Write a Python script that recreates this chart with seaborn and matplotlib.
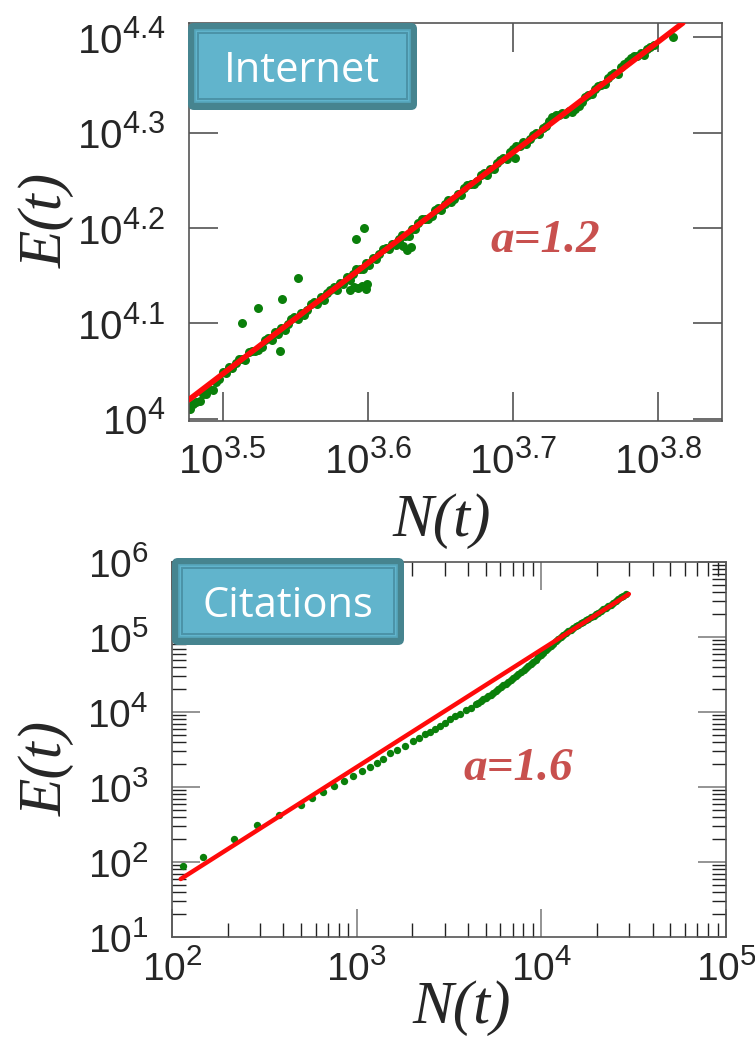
import numpy as np
import pandas as pd
import matplotlib
matplotlib.use("Agg")
import matplotlib.pyplot as plt
import matplotlib._mathtext as _mt
import seaborn as sns
from matplotlib.patches import FancyBboxPatch, Rectangle
from matplotlib.ticker import FixedLocator, NullLocator, LogLocator, NullFormatter

# ---------------- data (log10 values) ----------------
internet_logN = [
    3.4775, 3.4820, 3.4865, 3.4910, 3.4955, 3.5000, 3.5045, 3.5090, 3.5135, 3.5180,
    3.5225, 3.5270, 3.5315, 3.5360, 3.5405, 3.5450, 3.5495, 3.5540, 3.5585, 3.5630,
    3.5675, 3.5720, 3.5765, 3.5810, 3.5855, 3.5900, 3.5945, 3.5990, 3.6035, 3.6080,
    3.6125, 3.6170, 3.6215, 3.6260, 3.6305, 3.6350, 3.6395, 3.6440, 3.6485, 3.6530,
    3.6575, 3.6620, 3.6665, 3.6710, 3.6755, 3.6800, 3.6845, 3.6890, 3.6935, 3.6980,
    3.7025, 3.7070, 3.7115, 3.7160, 3.7205, 3.7250, 3.7295, 3.7340, 3.7385, 3.7430,
    3.7475, 3.7520, 3.7565, 3.7610, 3.7655, 3.7700, 3.7745, 3.7790, 3.7835, 3.7880,
    3.7925, 3.7970,
]
internet_logE = [
    4.0106, 4.0178, 4.0261, 4.0313, 4.0385, 4.0487, 4.0540, 4.0582, 4.0624, 4.0696,
    4.0709, 4.0751, 4.0843, 4.0906, 4.0948, 4.0990, 4.1062, 4.1105, 4.1137, 4.1219,
    4.1272, 4.1314, 4.1376, 4.1418, 4.1481, 4.1513, 4.1575, 4.1637, 4.1690, 4.1732,
    4.1794, 4.1827, 4.1889, 4.1911, 4.1993, 4.2056, 4.2098, 4.2130, 4.2213, 4.2255,
    4.2277, 4.2359, 4.2422, 4.2464, 4.2496, 4.2579, 4.2621, 4.2683, 4.2735, 4.2798,
    4.2860, 4.2902, 4.2935, 4.2997, 4.3049, 4.3121, 4.3184, 4.3206, 4.3228, 4.3251,
    4.3323, 4.3395, 4.3457, 4.3500, 4.3572, 4.3624, 4.3687, 4.3749, 4.3801, 4.3833,
    4.3876, 4.3918,
]
# second row of points inside the dense band
internet_band_logN = [
    3.47975, 3.48425, 3.48875, 3.49325, 3.49775, 3.50225, 3.50675, 3.51125, 3.51575, 3.52025,
    3.52475, 3.52925, 3.53375, 3.53825, 3.54275, 3.54725, 3.55175, 3.55625, 3.56075, 3.56525,
    3.56975, 3.57425, 3.57875, 3.58325, 3.58775, 3.59225, 3.59675, 3.60125, 3.60575, 3.61025,
    3.61475, 3.61925, 3.62375, 3.62825, 3.63275, 3.63725, 3.64175, 3.64625, 3.65075, 3.65525,
    3.65975, 3.66425, 3.66875, 3.67325, 3.67775, 3.68225, 3.68675, 3.69125, 3.69575, 3.70025,
    3.70475, 3.70925, 3.71375, 3.71825, 3.72275, 3.72725, 3.73175, 3.73625, 3.74075, 3.74525,
    3.74975, 3.75425, 3.75875, 3.76325, 3.76775, 3.77225, 3.77675, 3.78125, 3.78575, 3.79025,
    3.79475,
]
internet_band_logE = [
    4.0152, 4.0185, 4.0257, 4.0299, 4.0411, 4.0474, 4.0526, 4.0628, 4.0620, 4.0713,
    4.0715, 4.0827, 4.0830, 4.0892, 4.0934, 4.1046, 4.1049, 4.1091, 4.1203, 4.1206,
    4.1248, 4.1350, 4.1352, 4.1415, 4.1457, 4.1569, 4.1571, 4.1614, 4.1676, 4.1778,
    4.1781, 4.1823, 4.1925, 4.1917, 4.1990, 4.2092, 4.2094, 4.2187, 4.2189, 4.2291,
    4.2303, 4.2346, 4.2448, 4.2460, 4.2553, 4.2555, 4.2617, 4.2709, 4.2722, 4.2834,
    4.2856, 4.2879, 4.2971, 4.2983, 4.3075, 4.3168, 4.3190, 4.3192, 4.3215, 4.3277,
    4.3379, 4.3401, 4.3494, 4.3506, 4.3608, 4.3611, 4.3723, 4.3785, 4.3807, 4.3820,
    4.3902,
]
# scattered / off-trend points
internet_out_logN = [
    3.5134, 3.5244, 3.5410, 3.5520, 3.5919, 3.5975, 3.5396, 3.7014, 3.8103,
    3.5878, 3.5906, 3.5933, 3.5961, 3.5989, 3.5995,
    3.6216, 3.6243, 3.6271, 3.6298,
]
internet_out_logE = [
    4.1003, 4.1161, 4.1255, 4.1476, 4.1885, 4.2000, 4.0709, 4.2734, 4.4004,
    4.1349, 4.1381, 4.1370, 4.1391, 4.1360, 4.1412,
    4.1874, 4.1811, 4.1769, 4.1801,
]
internet_fit_logN = [3.4769, 3.8171]
internet_fit_logE = [4.0199, 4.4151]

citations_logN = [
    2.058, 2.166, 2.336, 2.462, 2.579, 2.697, 2.756, 2.8175, 2.877, 2.931,
    2.980, 3.029, 3.072, 3.110, 3.142, 3.180, 3.217, 3.262, 3.304, 3.335,
    3.368, 3.395, 3.422, 3.449, 3.480, 3.508, 3.535, 3.562, 3.590, 3.617,
    3.644, 3.673, 3.700, 3.727, 3.754, 3.781, 3.808, 3.835, 3.862, 3.890,
    3.917, 3.944, 3.971, 3.998, 4.025, 4.052, 4.079, 4.106, 4.133, 4.160,
    4.187, 4.214, 4.241, 4.269, 4.296, 4.323, 4.350, 4.377, 4.404, 4.431,
    4.458,
    3.6585, 3.6865, 3.7135, 3.7405, 3.7675, 3.7945, 3.8215, 3.8485, 3.876, 3.9035,
    3.9305, 3.9575, 3.9845, 4.0115, 4.0385, 4.0655, 4.0925, 4.1195, 4.1465, 4.1735,
    4.2005, 4.2275, 4.255, 4.2825, 4.3095, 4.3365, 4.3635, 4.3905, 4.4175, 4.4445,
]
citations_logE = [
    1.947, 2.071, 2.303, 2.497, 2.631, 2.764, 2.853, 2.933, 3.007, 3.080,
    3.147, 3.207, 3.267, 3.320, 3.373, 3.447, 3.500, 3.553, 3.613, 3.656,
    3.701, 3.737, 3.777, 3.817, 3.857, 3.903, 3.947, 3.979, 4.023, 4.059,
    4.103, 4.149, 4.189, 4.227, 4.279, 4.329, 4.380, 4.431, 4.481, 4.535,
    4.587, 4.640, 4.700, 4.760, 4.821, 4.881, 4.941, 5.001, 5.056, 5.099,
    5.141, 5.184, 5.224, 5.264, 5.304, 5.345, 5.389, 5.433, 5.480, 5.528,
    5.576,
    4.126, 4.169, 4.208, 4.253, 4.304, 4.3545, 4.4055, 4.456, 4.508, 4.561,
    4.6135, 4.670, 4.730, 4.7905, 4.851, 4.911, 4.971, 5.0285, 5.0775, 5.120,
    5.1625, 5.204, 5.244, 5.284, 5.3245, 5.367, 5.411, 5.4565, 5.504, 5.552,
]
citations_fit_logN = [2.047, 4.474]
citations_fit_logE = [1.773, 5.573]

internet_xtick_exp = ["3.5", "3.6", "3.7", "3.8"]
internet_ytick_exp = ["4", "4.1", "4.2", "4.3", "4.4"]
citations_xtick_exp = ["2", "3", "4", "5"]
citations_ytick_exp = ["1", "2", "3", "4", "5", "6"]
panel_names = ["Internet", "Citations"]
exponent_texts = ["a=1.2", "a=1.6"]
x_label = "N(t)"
y_label = "E(t)"

# ---------------- style ----------------
sns.set_style("ticks")
plt.rcParams["font.family"] = ["Liberation Sans", "DejaVu Sans"]
plt.rcParams["mathtext.fontset"] = "custom"
plt.rcParams["mathtext.rm"] = "Liberation Sans"
plt.rcParams["mathtext.it"] = "Liberation Sans:italic"
plt.rcParams["mathtext.bf"] = "Liberation Sans:bold"
_mt.SHRINK_FACTOR = 0.76  # slightly larger exponents, as in the reference

W, H = 755, 1041
fig = plt.figure(figsize=(W / 100, H / 100), dpi=100)
fig.patch.set_facecolor("white")

GREEN = "#0a7f0a"
RED = "#ff0a0a"
SPINE = "#555555"
TICK_FS = 29


def ax_from_px(left, top, right, bottom):
    return fig.add_axes([left / W, 1 - bottom / H, (right - left) / W, (bottom - top) / H])


def pow_labels(exps):
    return [r"$\mathregular{10^{%s}}$" % e for e in exps]


# ---------------- top panel: Internet ----------------
ax1 = ax_from_px(189, 23, 722, 421)
all_logN = internet_logN + internet_band_logN + internet_out_logN
all_logE = internet_logE + internet_band_logE + internet_out_logE
df1 = pd.DataFrame({"N": 10 ** np.array(all_logN), "E": 10 ** np.array(all_logE)})
sns.scatterplot(data=df1, x="N", y="E", ax=ax1, color=GREEN, s=42, linewidth=0, zorder=2)
fit1 = pd.DataFrame({"N": 10 ** np.array(internet_fit_logN), "E": 10 ** np.array(internet_fit_logE)})
sns.lineplot(data=fit1, x="N", y="E", ax=ax1, color=RED, lw=4.0, zorder=3)
ax1.set_xscale("log")
ax1.set_yscale("log")
ax1.set_xlim(10 ** 3.4769, 10 ** 3.8441)
ax1.set_ylim(10 ** 3.9975, 10 ** 4.4151)
ax1.xaxis.set_major_locator(FixedLocator(10 ** np.array([float(v) for v in internet_xtick_exp])))
ax1.yaxis.set_major_locator(FixedLocator(10 ** np.array([float(v) for v in internet_ytick_exp])))
ax1.xaxis.set_minor_locator(NullLocator())
ax1.yaxis.set_minor_locator(NullLocator())
ax1.set_xticklabels(pow_labels(internet_xtick_exp))
ax1.set_yticklabels(pow_labels(internet_ytick_exp))
ax1.tick_params(axis="both", which="major", direction="in", length=21, width=1.1,
                color="#444444", top=True, right=True, labelsize=TICK_FS)
ax1.tick_params(axis="x", pad=14)
ax1.tick_params(axis="y", pad=17)
ax1.set_xlabel("")
ax1.set_ylabel("")

# ---------------- bottom panel: Citations ----------------
ax2 = ax_from_px(172, 562, 726, 937)
df2 = pd.DataFrame({"N": 10 ** np.array(citations_logN), "E": 10 ** np.array(citations_logE)})
sns.scatterplot(data=df2, x="N", y="E", ax=ax2, color=GREEN, s=28, linewidth=0, zorder=2)
fit2 = pd.DataFrame({"N": 10 ** np.array(citations_fit_logN), "E": 10 ** np.array(citations_fit_logE)})
sns.lineplot(data=fit2, x="N", y="E", ax=ax2, color=RED, lw=3.2, zorder=3)
ax2.set_xscale("log")
ax2.set_yscale("log")
ax2.set_xlim(1e2, 1e5)
ax2.set_ylim(1e1, 1e6)
ax2.xaxis.set_major_locator(FixedLocator(10 ** np.array([float(v) for v in citations_xtick_exp])))
ax2.yaxis.set_major_locator(FixedLocator(10 ** np.array([float(v) for v in citations_ytick_exp])))
ax2.xaxis.set_minor_locator(LogLocator(base=10, subs=np.arange(2, 10), numticks=50))
ax2.yaxis.set_minor_locator(LogLocator(base=10, subs=np.arange(2, 10), numticks=50))
ax2.xaxis.set_minor_formatter(NullFormatter())
ax2.yaxis.set_minor_formatter(NullFormatter())
ax2.set_xticklabels(pow_labels(citations_xtick_exp))
ax2.set_yticklabels(pow_labels(citations_ytick_exp))
ax2.tick_params(axis="both", which="major", direction="in", length=20, width=1.1,
                color="#777777", top=True, right=True, labelsize=TICK_FS - 1)
ax2.tick_params(axis="both", which="minor", direction="in", length=10, width=1.0,
                color="#222222", top=True, right=True)
ax2.tick_params(axis="x", which="major", pad=9)
ax2.tick_params(axis="y", which="major", pad=17)
ax2.set_xlabel("")
ax2.set_ylabel("")

for ax in (ax1, ax2):
    for sp in ax.spines.values():
        sp.set_visible(True)
        sp.set_color(SPINE)
        sp.set_linewidth(1.2)
    ax.set_facecolor("white")

# ---------------- overlay: labels, boxes, annotations ----------------
ov = fig.add_axes([0, 0, 1, 1], zorder=10)
ov.set_xlim(0, W)
ov.set_ylim(H, 0)
ov.axis("off")


def draw_box(x0, y0, x1, y1, label, tx, ty):
    r = 6
    ov.add_patch(FancyBboxPatch((x0 + r, y0 + r), x1 - x0 - 2 * r, y1 - y0 - 2 * r,
                                boxstyle="round,pad=%d" % r, fc="#46848f", ec="none"))
    ov.add_patch(Rectangle((x0 + 7, y0 + 7), x1 - x0 - 14, y1 - y0 - 15,
                           fc="#61b4cc", ec="#56a6bc", lw=1.2))
    ov.add_patch(Rectangle((x0 + 10, y0 + 10), x1 - x0 - 20, y1 - y0 - 21,
                           fc="none", ec="#4b93a7", lw=1.4))
    ov.text(tx, ty, label, color="white", fontsize=30, family=["Open Sans", "DejaVu Sans"],
            ha="center", va="baseline")


draw_box(188, 23, 417, 110, panel_names[0], 301.5, 81.7)
draw_box(172, 558, 404, 645, panel_names[1], 287.5, 616.7)

serif = ["Liberation Serif", "DejaVu Serif"]
ov.text(545, 252, exponent_texts[0], color="#c8504e", fontsize=34, family=serif,
        style="italic", weight="bold", ha="center", va="baseline")
ov.text(518, 780, exponent_texts[1], color="#c8504e", fontsize=34, family=serif,
        style="italic", weight="bold", ha="center", va="baseline")

ov.text(442, 521, x_label, fontsize=44, family=serif, style="italic", ha="center", va="center")
ov.text(462, 1008, x_label, fontsize=44, family=serif, style="italic", ha="center", va="center")
ov.text(47, 220, y_label, fontsize=44, family=serif, style="italic", ha="center", va="center",
        rotation=90)
ov.text(47, 768, y_label, fontsize=44, family=serif, style="italic", ha="center", va="center",
        rotation=90)

fig.savefig("out.png", dpi=100)
